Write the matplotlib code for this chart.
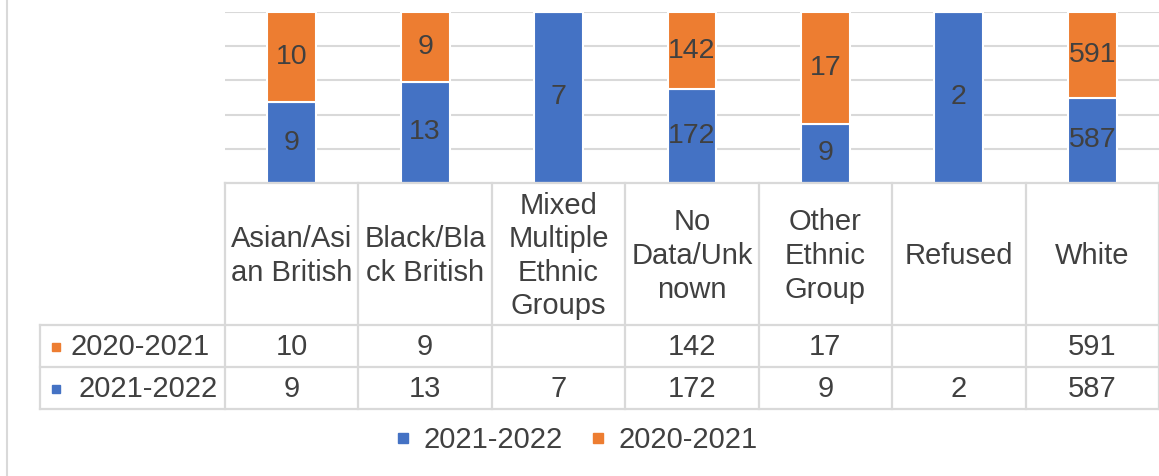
import numpy as np
import matplotlib
matplotlib.use("Agg")
import matplotlib.pyplot as plt
from matplotlib.lines import Line2D

categories = ["Asian/Asi\nan British", "Black/Bla\nck British", "Mixed\nMultiple\nEthnic\nGroups",
              "No\nData/Unk\nnown", "Other\nEthnic\nGroup", "Refused", "White"]
series_2021_2022 = [9, 13, 7, 172, 9, 2, 587]
series_2020_2021 = [10, 9, None, 142, 17, None, 591]
series_names = ["2021-2022", "2020-2021"]
yticks_pct = [0, 20, 40, 60, 80, 100]

BLUE = "#4472C4"
ORANGE = "#ED7D31"
TXT = "#404040"
GRID = "#D9D9D9"
FS = 21

plt.rcParams['font.family'] = ['Liberation Sans', 'DejaVu Sans']

W, H = 1159, 476
fig = plt.figure(figsize=(W / 100, H / 100), dpi=100)

def px_axes(l, t, r, b):
    return fig.add_axes([l / W, 1 - b / H, (r - l) / W, (b - t) / H])

# ---- bar plot ----
ax = px_axes(225, 12, 1159, 183)
n = len(categories)
x = np.arange(n)
a = np.array([v if v is not None else 0 for v in series_2021_2022], float)
b = np.array([v if v is not None else 0 for v in series_2020_2021], float)
tot = a + b
pa = a / tot * 100
pb = b / tot * 100
bw = 0.367
ax.bar(x, pa, bw, color=BLUE, edgecolor="white", linewidth=1.5, zorder=3)
ax.bar(x, pb, bw, bottom=pa, color=ORANGE, edgecolor="white", linewidth=1.5, zorder=3)
for i in range(n):
    if series_2021_2022[i] is not None:
        ax.text(x[i], pa[i] / 2, str(series_2021_2022[i]), ha="center", va="center",
                fontsize=20.5, color=TXT, zorder=4)
    if series_2020_2021[i] is not None:
        ax.text(x[i], pa[i] + pb[i] / 2, str(series_2020_2021[i]), ha="center", va="center",
                fontsize=20.5, color=TXT, zorder=4)
ax.set_xlim(-0.5, n - 0.5)
ax.set_ylim(0, 100)
for yv in yticks_pct[1:]:
    ax.axhline(yv, color=GRID, linewidth=1.5, zorder=1)
ax.set_xticks([])
ax.set_yticks([])
for s in ax.spines.values():
    s.set_visible(False)

# ---- data table ----
tx = px_axes(225, 183, 1159, 409)
tx.set_xlim(-0.5, n - 0.5)
tx.set_ylim(409, 183)
tx.axis("off")
colw = (1159 - 225) / n
left_edge = -0.5 - (225 - 40) / colw
lk = dict(color=GRID, linewidth=1.6, clip_on=False)
tx.plot([-0.5, n - 0.5], [183, 183], **lk)
for yv in (325, 367, 409):
    tx.plot([left_edge, n - 0.5], [yv, yv], **lk)
for xv in np.arange(n + 1) - 0.5:
    tx.plot([xv, xv], [183, 409], **lk)
tx.plot([left_edge, left_edge], [325, 409], **lk)

for i, c in enumerate(categories):
    tx.text(i, 256, c, ha="center", va="center", fontsize=FS, color=TXT, linespacing=1.25)
rows = [(series_2020_2021, series_names[1], ORANGE, 347, 70),
        (series_2021_2022, series_names[0], BLUE, 389, 78)]
for vals, name, col, yv, tx0 in rows:
    for i, v in enumerate(vals):
        if v is not None:
            tx.text(i, yv, str(v), ha="center", va="center", fontsize=FS, color=TXT)
    xm = -0.5 - (225 - 56) / colw
    tx.plot([xm], [yv], marker="s", markersize=6, color=col, clip_on=False)
    tx.text(-0.5 - (225 - tx0) / colw, yv, name, ha="left", va="center", fontsize=FS, color=TXT)

# ---- legend ----
handles = [Line2D([], [], marker="s", linestyle="none", markersize=7, color=BLUE),
           Line2D([], [], marker="s", linestyle="none", markersize=7, color=ORANGE)]
fig.legend(handles, series_names, loc="center", bbox_to_anchor=(576 / W, 1 - 440 / H),
           ncol=2, frameon=False, fontsize=FS, labelcolor=TXT, handlelength=0.6,
           handletextpad=0.4, columnspacing=0.9)

# chart border (left side)
fig.add_artist(Line2D([7 / W, 7 / W], [0, 1], color=GRID, linewidth=1.5))

fig.savefig("out.png", dpi=100)
